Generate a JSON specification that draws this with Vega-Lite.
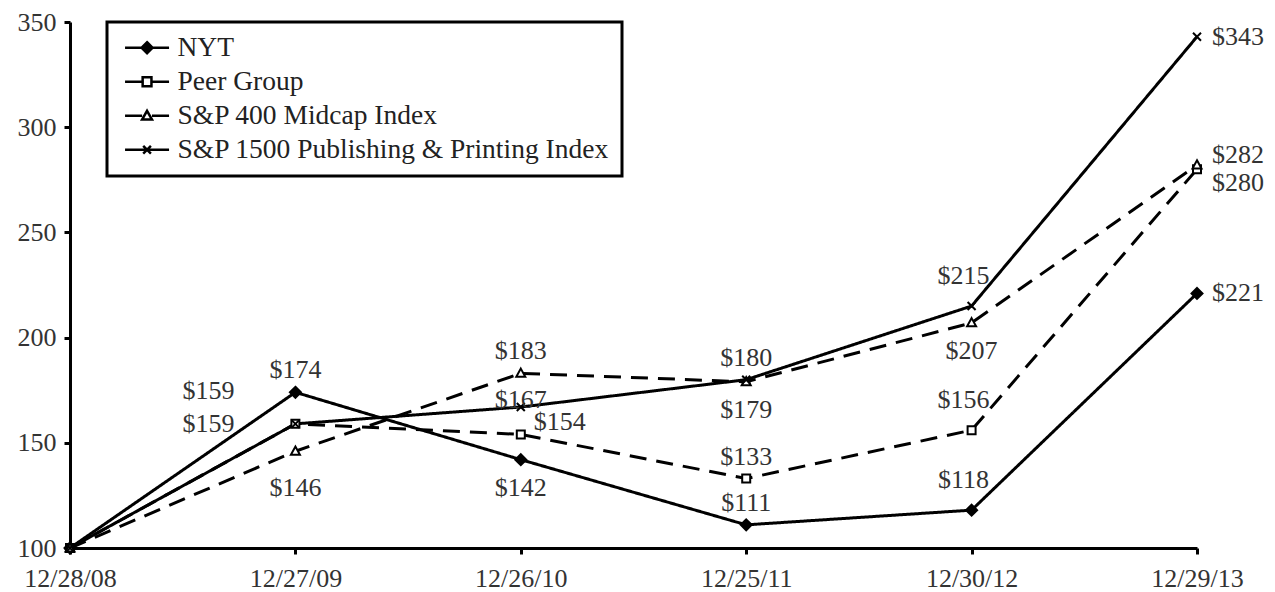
{
  "$schema": "https://vega.github.io/schema/vega-lite/v6.json",
  "width": 1127,
  "height": 526,
  "autosize": {"type": "none"},
  "padding": {"left": 70, "top": 22, "right": 78, "bottom": 44},
  "background": "white",
  "config": {
    "view": {"stroke": null},
    "font": "Liberation Serif",
    "legend": {"strokeWidth": 3},
    "axis": {
      "domainColor": "black", "domainWidth": 3,
      "tickColor": "black", "tickWidth": 3, "tickSize": 6,
      "labelFont": "Liberation Serif", "labelFontSize": 26, "labelColor": "#333",
      "grid": false, "title": null
    }
  },
  "datasets": {
    "main": [
      {"date": "12/28/08", "series": "NYT", "value": 100},
      {"date": "12/27/09", "series": "NYT", "value": 174},
      {"date": "12/26/10", "series": "NYT", "value": 142},
      {"date": "12/25/11", "series": "NYT", "value": 111},
      {"date": "12/30/12", "series": "NYT", "value": 118},
      {"date": "12/29/13", "series": "NYT", "value": 221},
      {"date": "12/28/08", "series": "Peer Group", "value": 100},
      {"date": "12/27/09", "series": "Peer Group", "value": 159},
      {"date": "12/26/10", "series": "Peer Group", "value": 154},
      {"date": "12/25/11", "series": "Peer Group", "value": 133},
      {"date": "12/30/12", "series": "Peer Group", "value": 156},
      {"date": "12/29/13", "series": "Peer Group", "value": 280},
      {"date": "12/28/08", "series": "S&P 400 Midcap Index", "value": 100},
      {"date": "12/27/09", "series": "S&P 400 Midcap Index", "value": 146},
      {"date": "12/26/10", "series": "S&P 400 Midcap Index", "value": 183},
      {"date": "12/25/11", "series": "S&P 400 Midcap Index", "value": 179},
      {"date": "12/30/12", "series": "S&P 400 Midcap Index", "value": 207},
      {"date": "12/29/13", "series": "S&P 400 Midcap Index", "value": 282},
      {"date": "12/28/08", "series": "S&P 1500 Publishing & Printing Index", "value": 100},
      {"date": "12/27/09", "series": "S&P 1500 Publishing & Printing Index", "value": 159},
      {"date": "12/26/10", "series": "S&P 1500 Publishing & Printing Index", "value": 167},
      {"date": "12/25/11", "series": "S&P 1500 Publishing & Printing Index", "value": 180},
      {"date": "12/30/12", "series": "S&P 1500 Publishing & Printing Index", "value": 215},
      {"date": "12/29/13", "series": "S&P 1500 Publishing & Printing Index", "value": 343}
    ],
    "labelsAbove": [
      {"date": "12/27/09", "value": 174},
      {"date": "12/26/10", "value": 183},
      {"date": "12/25/11", "value": 180},
      {"date": "12/25/11", "value": 133},
      {"date": "12/25/11", "value": 111}
    ],
    "labelsAboveHigh": [
      {"date": "12/30/12", "value": 118},
      {"date": "12/30/12", "value": 156},
      {"date": "12/30/12", "value": 215}
    ],
    "labelsBelow": [
      {"date": "12/26/10", "value": 142},
      {"date": "12/25/11", "value": 179},
      {"date": "12/30/12", "value": 207}
    ],
    "labelsBelowFar": [
      {"date": "12/27/09", "value": 146}
    ],
    "labelsLeft": [
      {"date": "12/27/09", "value": 159}
    ],
    "labelsLeftUp": [
      {"date": "12/27/09", "value": 159}
    ],
    "labelsMid": [
      {"date": "12/26/10", "value": 167}
    ],
    "labelsUpRight": [
      {"date": "12/26/10", "value": 154}
    ],
    "labelsRight": [
      {"date": "12/29/13", "value": 343},
      {"date": "12/29/13", "value": 221}
    ],
    "labelsRightUp": [
      {"date": "12/29/13", "value": 282}
    ],
    "labelsRightDown": [
      {"date": "12/29/13", "value": 280}
    ]
  },
  "encoding": {
    "x": {
      "field": "date", "type": "ordinal",
      "scale": {"type": "point", "padding": 0, "domain": ["12/28/08", "12/27/09", "12/26/10", "12/25/11", "12/30/12", "12/29/13"]},
      "axis": {"labelAngle": 0, "labelPadding": 11}
    },
    "y": {
      "field": "value", "type": "quantitative",
      "scale": {"domain": [100, 350], "nice": false, "zero": false},
      "axis": {"values": [100, 150, 200, 250, 300, 350], "labelPadding": 8}
    }
  },
  "layer": [
    {
      "data": {"name": "main"},
      "mark": {"type": "line", "color": "black", "strokeWidth": 3},
      "encoding": {
        "detail": {"field": "series"},
        "strokeDash": {
          "field": "series", "type": "nominal",
          "scale": {
            "domain": ["NYT", "Peer Group", "S&P 400 Midcap Index", "S&P 1500 Publishing & Printing Index"],
            "range": [[1, 0], [17, 10], [17, 10], [1, 0]]
          },
          "legend": null
        }
      }
    },
    {
      "data": {"name": "main"},
      "mark": {"type": "point", "filled": true, "stroke": "black", "strokeWidth": 2, "size": 100, "opacity": 1},
      "encoding": {
        "shape": {
          "field": "series", "type": "nominal",
          "scale": {
            "domain": ["NYT", "Peer Group", "S&P 400 Midcap Index", "S&P 1500 Publishing & Printing Index"],
            "range": [
              "M0,-1.1L1.1,0L0,1.1L-1.1,0Z",
              "M-0.8,-0.8H0.8V0.8H-0.8Z",
              "M0,-0.95L0.9,0.7H-0.9Z",
              "M-0.8,-0.8L0.8,0.8M-0.8,0.8L0.8,-0.8"
            ]
          },
          "legend": null
        },
        "fill": {
          "field": "series", "type": "nominal",
          "scale": {
            "domain": ["NYT", "Peer Group", "S&P 400 Midcap Index", "S&P 1500 Publishing & Printing Index"],
            "range": ["black", "white", "white", "black"]
          },
          "legend": null
        }
      }
    },
    {
      "data": {"name": "main"},
      "mark": {"type": "point", "filled": false, "stroke": "black", "strokeWidth": 2.5, "size": 484, "opacity": 0},
      "encoding": {
        "shape": {
          "field": "series", "type": "nominal",
          "scale": {
            "domain": ["NYT", "Peer Group", "S&P 400 Midcap Index", "S&P 1500 Publishing & Printing Index"],
            "range": [
              "M-0.7,0H3.3M1.3,-0.5L1.8,0L1.3,0.5L0.8,0ZM1.3,-0.25L1.55,0L1.3,0.25L1.05,0Z",
              "M-0.7,0H0.9M1.7,0H3.3M0.9,-0.4H1.7V0.4H0.9Z",
              "M-0.7,0H0.85M1.75,0H3.3M1.3,-0.45L1.75,0.35H0.85Z",
              "M-0.7,0H3.3M0.95,-0.35L1.65,0.35M0.95,0.35L1.65,-0.35"
            ]
          },
          "legend": {
            "title": null,
            "orient": "none",
            "legendX": 37,
            "legendY": 0,
            "padding": 12,
            "strokeColor": "black",
            "fillColor": "white",
            "symbolSize": 484,
            "symbolStrokeColor": "black",
            "symbolStrokeWidth": 2.5,
            "symbolFillColor": "white",
            "symbolOpacity": 1,
            "labelFont": "Liberation Serif",
            "labelFontSize": 27.5,
            "labelColor": "#222",
            "labelLimit": 700,
            "labelOffset": 31,
            "rowPadding": 5,
            "encode": {
              "legend": {"update": {"strokeWidth": {"value": 3}}},
              "symbols": {"update": {"opacity": {"value": 1}, "stroke": {"value": "black"}, "fill": {"value": "white"}}}
            }
          }
        }
      }
    },
    {
      "data": {"name": "labelsAbove"},
      "mark": {"type": "text", "baseline": "bottom", "align": "center", "dy": -9, "fontSize": 26, "color": "#333", "font": "Liberation Serif"},
      "encoding": {"text": {"field": "value", "type": "quantitative", "format": "$.0f"}}
    },
    {
      "data": {"name": "labelsAboveHigh"},
      "mark": {"type": "text", "baseline": "bottom", "align": "center", "dx": -8, "dy": -17, "fontSize": 26, "color": "#333", "font": "Liberation Serif"},
      "encoding": {"text": {"field": "value", "type": "quantitative", "format": "$.0f"}}
    },
    {
      "data": {"name": "labelsBelow"},
      "mark": {"type": "text", "baseline": "top", "align": "center", "dy": 15, "fontSize": 26, "color": "#333", "font": "Liberation Serif"},
      "encoding": {"text": {"field": "value", "type": "quantitative", "format": "$.0f"}}
    },
    {
      "data": {"name": "labelsBelowFar"},
      "mark": {"type": "text", "baseline": "top", "align": "center", "dy": 24, "fontSize": 26, "color": "#333", "font": "Liberation Serif"},
      "encoding": {"text": {"field": "value", "type": "quantitative", "format": "$.0f"}}
    },
    {
      "data": {"name": "labelsLeft"},
      "mark": {"type": "text", "baseline": "middle", "align": "right", "dx": -61, "dy": 0, "fontSize": 26, "color": "#333", "font": "Liberation Serif"},
      "encoding": {"text": {"field": "value", "type": "quantitative", "format": "$.0f"}}
    },
    {
      "data": {"name": "labelsLeftUp"},
      "mark": {"type": "text", "baseline": "middle", "align": "right", "dx": -61, "dy": -33, "fontSize": 26, "color": "#333", "font": "Liberation Serif"},
      "encoding": {"text": {"field": "value", "type": "quantitative", "format": "$.0f"}}
    },
    {
      "data": {"name": "labelsMid"},
      "mark": {"type": "text", "baseline": "middle", "align": "center", "dx": 0, "dy": -7, "fontSize": 26, "color": "#333", "font": "Liberation Serif"},
      "encoding": {"text": {"field": "value", "type": "quantitative", "format": "$.0f"}}
    },
    {
      "data": {"name": "labelsUpRight"},
      "mark": {"type": "text", "baseline": "middle", "align": "left", "dx": 13, "dy": -12, "fontSize": 26, "color": "#333", "font": "Liberation Serif"},
      "encoding": {"text": {"field": "value", "type": "quantitative", "format": "$.0f"}}
    },
    {
      "data": {"name": "labelsRight"},
      "mark": {"type": "text", "baseline": "middle", "align": "left", "dx": 15, "dy": 0, "fontSize": 26, "color": "#333", "font": "Liberation Serif"},
      "encoding": {"text": {"field": "value", "type": "quantitative", "format": "$.0f"}}
    },
    {
      "data": {"name": "labelsRightUp"},
      "mark": {"type": "text", "baseline": "middle", "align": "left", "dx": 15, "dy": -10, "fontSize": 26, "color": "#333", "font": "Liberation Serif"},
      "encoding": {"text": {"field": "value", "type": "quantitative", "format": "$.0f"}}
    },
    {
      "data": {"name": "labelsRightDown"},
      "mark": {"type": "text", "baseline": "middle", "align": "left", "dx": 15, "dy": 14, "fontSize": 26, "color": "#333", "font": "Liberation Serif"},
      "encoding": {"text": {"field": "value", "type": "quantitative", "format": "$.0f"}}
    }
  ],
  "resolve": {"scale": {"shape": "independent"}, "legend": {"shape": "independent"}}
}
